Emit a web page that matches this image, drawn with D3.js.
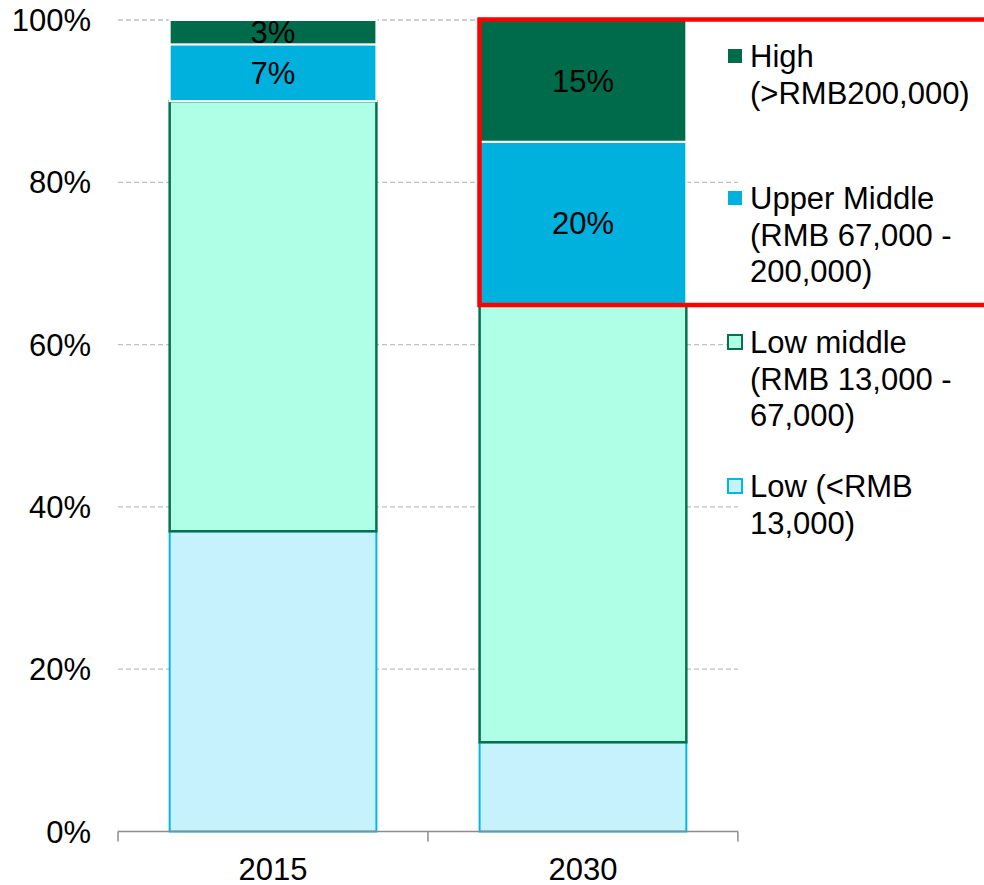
<!DOCTYPE html>
<html>
<head>
<meta charset="utf-8">
<script src="https://cdn.jsdelivr.net/npm/d3@7"></script>
<style>
  html, body { margin: 0; padding: 0; background: #fff; }
  svg { display: block; font-family: "Liberation Sans", Arial, sans-serif; }
</style>
</head>
<body>
<svg id="chart" width="984" height="885"></svg>
<script>
// Income-group shares of households, stacked to 100%
const years = ["2015", "2030"];
const low = [37, 11];
const lowMiddle = [53, 54];
const upperMiddle = [7, 20];
const high = [3, 15];
const yTicks = [0, 20, 40, 60, 80, 100];

const seriesKeys = ["low", "lowMiddle", "upperMiddle", "high"];
const seriesStyle = {
  low:         { fill: "#C6F2FD", stroke: "#00B8E4", sw: 2 },
  lowMiddle:   { fill: "#AEFFE6", stroke: "#07704F", sw: 2.5 },
  upperMiddle: { fill: "#00B1DE", stroke: "#FFFFFF", sw: 2 },
  high:        { fill: "#006B4B", stroke: "#FFFFFF", sw: 2 }
};
const legendItems = [
  { key: "high",        lines: ["High", "(>RMB200,000)"] },
  { key: "upperMiddle", lines: ["Upper Middle", "(RMB 67,000 -", "200,000)"] },
  { key: "lowMiddle",   lines: ["Low middle", "(RMB 13,000 -", "67,000)"] },
  { key: "low",         lines: ["Low (<RMB", "13,000)"] }
];
const labelled = { upperMiddle: true, high: true };

const rows = years.map((y, i) => ({
  year: y, low: low[i], lowMiddle: lowMiddle[i], upperMiddle: upperMiddle[i], high: high[i]
}));
const stacked = d3.stack().keys(seriesKeys)(rows);

const svg = d3.select("#chart");
const x = d3.scaleBand().domain(years).range([118, 738]).paddingInner(0.333).paddingOuter(0.1667);
const y = d3.scaleLinear().domain([0, 100]).range([831.5, 20]);
const fontSize = 31;

// gridlines
svg.append("g").selectAll("line").data(yTicks.filter(d => d > 0)).join("line")
  .attr("x1", 118).attr("x2", 738)
  .attr("y1", d => y(d)).attr("y2", d => y(d))
  .attr("stroke", "#C0C0C0").attr("stroke-width", 1.3)
  .attr("stroke-dasharray", "5,3");

// y tick labels
svg.append("g").selectAll("text").data(yTicks).join("text")
  .attr("x", 91).attr("y", d => y(d) + 11)
  .attr("text-anchor", "end").attr("font-size", fontSize).attr("fill", "#000")
  .text(d => d + "%");

// stacked bars
const layer = svg.append("g").selectAll("g").data(stacked).join("g");
layer.selectAll("rect").data(s => s.map(d => ({ key: s.key, d }))).join("rect")
  .attr("x", o => x(o.d.data.year))
  .attr("width", x.bandwidth())
  .attr("y", o => y(o.d[1]))
  .attr("height", o => y(o.d[0]) - y(o.d[1]))
  .attr("fill", o => seriesStyle[o.key].fill)
  .attr("stroke", o => seriesStyle[o.key].stroke)
  .attr("stroke-width", o => seriesStyle[o.key].sw);

// value labels
stacked.filter(s => labelled[s.key]).forEach(s => {
  svg.append("g").selectAll("text").data(s).join("text")
    .attr("x", d => x(d.data.year) + x.bandwidth() / 2)
    .attr("y", d => (y(d[0]) + y(d[1])) / 2 + 11)
    .attr("text-anchor", "middle").attr("font-size", fontSize).attr("fill", "#000")
    .text(d => (d[1] - d[0]) + "%");
});

// x axis
const xAxis = svg.append("g").attr("transform", "translate(0,831.5)");
xAxis.append("line").attr("x1", 118).attr("x2", 738).attr("stroke", "#8C8C8C").attr("stroke-width", 1.5);
const step = x.step();
const edges = [118].concat(years.map((d, i) => 118 + step * (i + 1)));
xAxis.selectAll("line.tick").data(edges).join("line").attr("class", "tick")
  .attr("x1", d => d).attr("x2", d => d).attr("y1", 0).attr("y2", 10)
  .attr("stroke", "#8C8C8C").attr("stroke-width", 1.5);
xAxis.selectAll("text").data(years).join("text")
  .attr("x", d => x(d) + x.bandwidth() / 2).attr("y", 48)
  .attr("text-anchor", "middle").attr("font-size", fontSize).attr("fill", "#000")
  .text(d => d);

// legend
const legendBaselines = [67, 209, 353, 497];
const lineH = 36.5;
const legend = svg.append("g");
legendItems.forEach((item, i) => {
  const st = seriesStyle[item.key];
  const b = legendBaselines[i];
  const boxed = st.stroke !== "#FFFFFF";
  legend.append("rect")
    .attr("x", 728).attr("y", b - 18)
    .attr("width", 14).attr("height", 14)
    .attr("fill", st.fill)
    .attr("stroke", boxed ? st.stroke : "none").attr("stroke-width", 2);
  const t = legend.append("text").attr("x", 750).attr("y", b)
    .attr("font-size", fontSize).attr("fill", "#000");
  item.lines.forEach((ln, j) => {
    t.append("tspan").attr("x", 750).attr("y", b + j * lineH).text(ln);
  });
});

// highlight frame around the 2030 upper segments
svg.append("rect")
  .attr("x", 479.5).attr("y", 19.5)
  .attr("width", 520).attr("height", y(65) - 19.5 + 1)
  .attr("fill", "none").attr("stroke", "#FF0000").attr("stroke-width", 4.5);
</script>
</body>
</html>
